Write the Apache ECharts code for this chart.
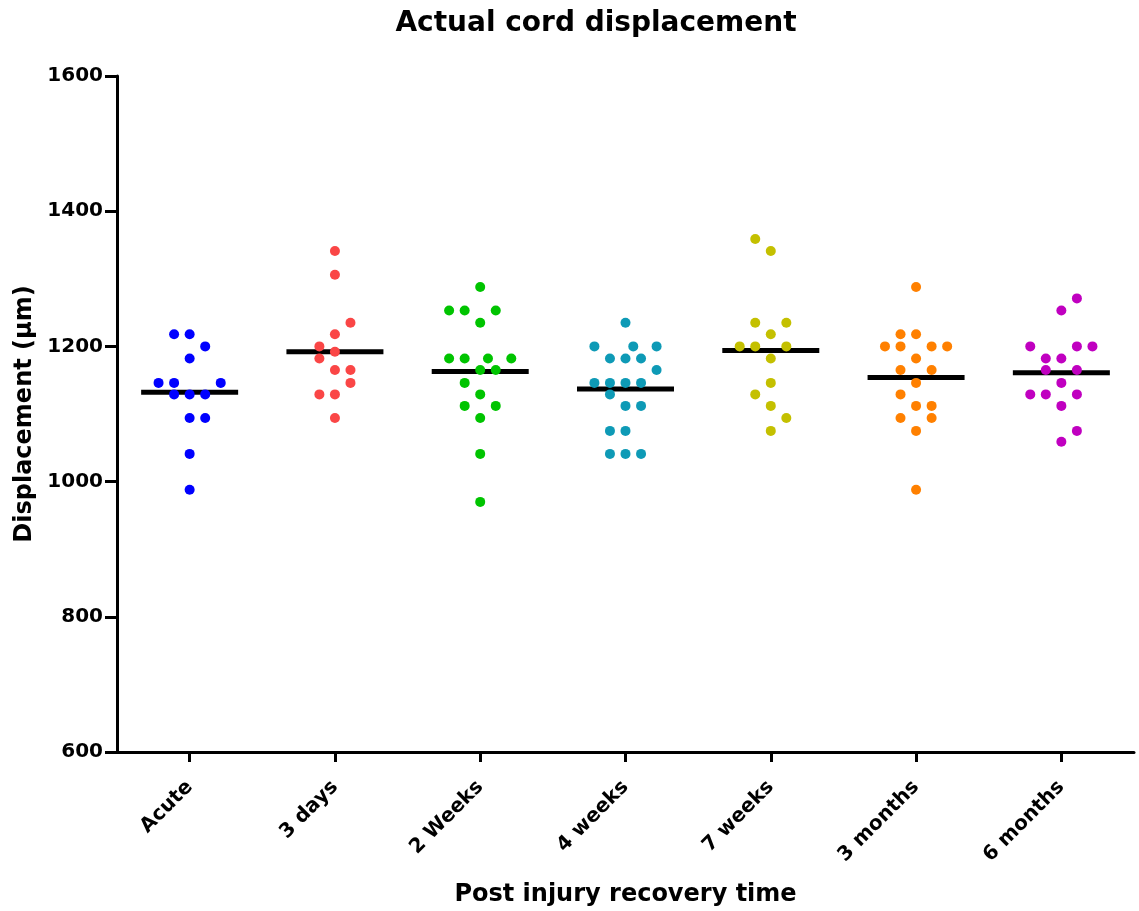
<!DOCTYPE html>
<html>
<head>
<meta charset="utf-8">
<script src="https://cdn.jsdelivr.net/npm/echarts@6/dist/echarts.min.js"></script>
<style>
html, body { margin: 0; padding: 0; background: #fff; }
#chartDisp { width: 1139px; height: 911px; }
</style>
</head>
<body>
<div id="chartDisp"></div>
<script>
//----data-----------------------------
var categories = ['Acute', '3 days', '2 Weeks', '4 weeks', '7 weeks', '3 months', '6 months'];
var groupColors = ['#0000ff', '#fa4646', '#00c400', '#0e9ab6', '#c4c000', '#ff8000', '#c000c0'];
var yTicks = [600, 800, 1000, 1200, 1400, 1600];

var acuteVals = [1218, 1218, 1200, 1182, 1146, 1146, 1146, 1129, 1129, 1129, 1094, 1094, 1041, 988];
var acuteCols = [-1, 0, 1, 0, -2, -1, 2, -1, 0, 1, 0, 1, 0, 0];
var days3Vals = [1341, 1306, 1235, 1218, 1200, 1192, 1182, 1165, 1165, 1146, 1129, 1129, 1094];
var days3Cols = [0, 0, 1, 0, -1, 0, -1, 0, 1, 1, -1, 0, 0];
var weeks2Vals = [1288, 1253, 1253, 1253, 1235, 1182, 1182, 1182, 1182, 1165, 1165, 1146, 1129, 1112, 1112, 1094, 1041, 970];
var weeks2Cols = [0, -2, -1, 1, 0, -2, -1, 0.5, 2, 0, 1, -1, 0, -1, 1, 0, 0, 0];
var weeks4Vals = [1235, 1200, 1200, 1200, 1182, 1182, 1182, 1165, 1146, 1146, 1146, 1146, 1129, 1112, 1112, 1075, 1075, 1041, 1041, 1041];
var weeks4Cols = [0, -2, 0.5, 2, -1, 0, 1, 2, -2, -1, 0, 1, -1, 0, 1, -1, 0, -1, 0, 1];
var weeks7Vals = [1359, 1341, 1235, 1235, 1218, 1200, 1200, 1200, 1182, 1146, 1129, 1112, 1094, 1075];
var weeks7Cols = [-1, 0, -1, 1, 0, -2, -1, 1, 0, 0, -1, 0, 1, 0];
var months3Vals = [1288, 1218, 1218, 1200, 1200, 1200, 1200, 1182, 1165, 1165, 1146, 1129, 1112, 1112, 1094, 1094, 1075, 988];
var months3Cols = [0, -1, 0, -2, -1, 1, 2, 0, -1, 1, 0, -1, 0, 1, -1, 1, 0, 0];
var months6Vals = [1271, 1253, 1200, 1200, 1200, 1182, 1182, 1165, 1165, 1146, 1129, 1129, 1129, 1112, 1075, 1059];
var months6Cols = [1, 0, -2, 1, 2, -1, 0, -1, 1, 0, -2, -1, 1, 0, 1, 0];
var groupMeans = [1132, 1192, 1163, 1137, 1194, 1154, 1161];

var groupVals = [acuteVals, days3Vals, weeks2Vals, weeks4Vals, weeks7Vals, months3Vals, months6Vals];
var groupCols = [acuteCols, days3Cols, weeks2Cols, weeks4Cols, weeks7Cols, months3Cols, months6Cols];

function renderDisp() {
    var dom = document.getElementById('chartDisp');
    var myChart = echarts.init(dom);
    var colStep = 0.107; // one dot width in category units
    var font = 'DejaVu Sans';

    var series = [{
        name: 'mean',
        type: 'scatter',
        xAxisIndex: 1,
        symbol: 'rect',
        symbolSize: [97, 5],
        itemStyle: { color: '#000', opacity: 1 },
        z: 2,
        data: groupMeans.map(function(m, i) { return [i, m]; })
    }];

    groupVals.forEach(function(vals, g) {
        series.push({
            name: categories[g],
            type: 'scatter',
            xAxisIndex: 1,
            symbolSize: 10,
            itemStyle: { color: groupColors[g], opacity: 1 },
            z: 3,
            data: vals.map(function(v, k) { return [g + groupCols[g][k] * colStep, v]; })
        });
    });

    var option = {
        animation: false,
        title: {
            text: 'Actual cord displacement',
            left: 591,
            textAlign: 'center',
            top: 5,
            textStyle: { fontFamily: font, fontSize: 28, fontWeight: 'bold', color: '#000' }
        },
        grid: { left: 117, right: 5, top: 76, bottom: 159, containLabel: false, outerBoundsMode: 'none' },
        xAxis: [{
            type: 'category',
            data: categories,
            boundaryGap: true,
            name: 'Post injury recovery time',
            nameLocation: 'middle',
            nameGap: 131,
            nameTextStyle: { fontFamily: font, fontSize: 24, fontWeight: 'bold', color: '#000' },
            axisLine: { show: true, onZero: false, lineStyle: { color: '#000', width: 3 } },
            axisTick: { show: true, interval: 0, alignWithLabel: true, length: 10, lineStyle: { color: '#000', width: 3 } },
            axisLabel: { interval: 0, rotate: 45, margin: 32, fontFamily: font, fontSize: 20, fontWeight: 'bold', color: '#000' },
            splitLine: { show: false }
        }, {
            type: 'value',
            min: -0.5,
            max: 6.5,
            show: false
        }],
        yAxis: {
            type: 'value',
            min: yTicks[0],
            max: yTicks[yTicks.length - 1],
            interval: 200,
            name: 'Displacement (μm)',
            nameLocation: 'middle',
            nameGap: 79,
            nameTextStyle: { fontFamily: font, fontSize: 24, fontWeight: 'bold', color: '#000' },
            axisLine: { show: true, onZero: false, lineStyle: { color: '#000', width: 3 } },
            axisTick: { show: true, length: 12, lineStyle: { color: '#000', width: 3 } },
            axisLabel: {
                margin: 14, fontFamily: font, fontSize: 20, fontWeight: 'bold', color: '#000',
                formatter: function(v) { return String(v); }
            },
            splitLine: { show: false }
        },
        series: series
    };
    myChart.setOption(option);

    window.addEventListener('resize', function() {
        myChart.resize();
    });
}

renderDisp();
</script>
</body>
</html>
